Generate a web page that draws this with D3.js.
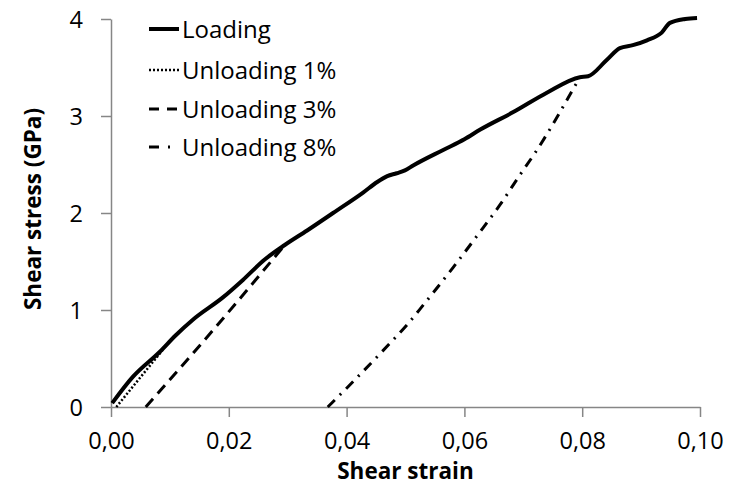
<!DOCTYPE html>
<html>
<head>
<meta charset="utf-8">
<style>
  body { margin: 0; background: #fff; }
  svg text { font-family: "Open Sans", sans-serif; fill: #000; }
  svg .domain { stroke: #868686; stroke-width: 1.5px; }
  svg .tick line { stroke: #868686; stroke-width: 1.5px; }
  svg .tick text { font-size: 23.5px; }
  svg .curve { fill: none; stroke: #000; stroke-linejoin: round; }
</style>
</head>
<body>
<div id="chart"></div>
<script src="https://cdn.jsdelivr.net/npm/d3@7"></script>
<script>
// loading curve [strain, stress GPa]
var loading = [
  [0.0002, 0.04], [0.0037, 0.31], [0.0083, 0.57], [0.0110, 0.74], [0.0139, 0.90],
  [0.0190, 1.13], [0.0224, 1.31], [0.0261, 1.52], [0.0295, 1.67], [0.0333, 1.82],
  [0.0377, 2.00], [0.0428, 2.21], [0.0452, 2.32], [0.0469, 2.38], [0.0485, 2.41],
  [0.0499, 2.44], [0.0513, 2.49], [0.0564, 2.65], [0.0600, 2.76], [0.0627, 2.86],
  [0.0683, 3.04], [0.0740, 3.24], [0.0796, 3.40], [0.0810, 3.41], [0.0842, 3.58],
  [0.0864, 3.70], [0.0886, 3.73], [0.0910, 3.78], [0.0935, 3.86], [0.0949, 3.96],
  [0.0975, 4.00], [0.0995, 4.01]
];
var unload1 = [[0.0009, 0.0], [0.0088, 0.59]];
var unload3 = [[0.0059, 0.0], [0.0180, 0.84], [0.0295, 1.67]];
var unload8 = [
  [0.0368, 0.0], [0.0414, 0.28], [0.0474, 0.66], [0.0503, 0.85], [0.0530, 1.05],
  [0.0581, 1.44], [0.0632, 1.85], [0.0660, 2.08], [0.0694, 2.39], [0.0720, 2.62],
  [0.0796, 3.40]
];

var seriesNames = ["Loading", "Unloading 1%", "Unloading 3%", "Unloading 8%"];
var xTicks = [0, 0.02, 0.04, 0.06, 0.08, 0.10];
var yTicks = [0, 1, 2, 3, 4];

var W = 741, H = 486;
var margin = { top: 19, right: 41, bottom: 79, left: 111 };
var width = W - margin.left - margin.right,
    height = H - margin.top - margin.bottom;

var svg = d3.select("#chart").append("svg")
    .attr("width", W)
    .attr("height", H);

var g = svg.append("g")
    .attr("transform", "translate(" + margin.left + "," + margin.top + ")");

var x = d3.scaleLinear().domain([0, 0.10]).range([0, width]);
var y = d3.scaleLinear().domain([0, 4]).range([height, 0]);

// x axis
var xAxis = d3.axisBottom(x)
    .tickValues(xTicks)
    .tickSize(10)
    .tickSizeOuter(0)
    .tickFormat(function (d) { return d3.format(".2f")(d).replace(".", ","); });

var xa = g.append("g")
    .attr("transform", "translate(0," + height + ")")
    .call(xAxis);
xa.selectAll(".tick text")
    .attr("y", 42)
    .attr("dy", 0);

// y axis
var yAxis = d3.axisLeft(y)
    .tickValues(yTicks)
    .tickSize(10)
    .tickSizeOuter(0)
    .tickFormat(d3.format("d"));

var ya = g.append("g").call(yAxis);
ya.selectAll(".tick text")
    .attr("x", -28)
    .attr("dy", "0.36em");

// axis titles
svg.append("text")
    .attr("x", margin.left + width / 2)
    .attr("y", 479)
    .attr("text-anchor", "middle")
    .style("font-size", "22.5px")
    .style("font-weight", "bold")
    .text("Shear strain");

svg.append("text")
    .attr("transform", "translate(41,209) rotate(-90)")
    .attr("text-anchor", "middle")
    .style("font-size", "22.5px")
    .style("font-weight", "bold")
    .text("Shear stress (GPa)");

// lines
var line = d3.line()
    .x(function (d) { return x(d[0]); })
    .y(function (d) { return y(d[1]); })
    .curve(d3.curveMonotoneX);

var styles = [
  { data: loading, w: 4, dash: null, key: null },
  { data: unload1, w: 2.5, dash: "2,2", key: "2,2" },
  { data: unload3, w: 3, dash: "11,7", key: "10,8" },
  { data: unload8, w: 3, dash: "10,7,2,7", key: "10,9,2,20" }
];

styles.forEach(function (s) {
  g.append("path")
    .attr("class", "curve")
    .attr("d", line(s.data))
    .style("stroke-width", s.w + "px")
    .style("stroke-dasharray", s.dash);
});

// legend
var legendY = [29, 70, 109, 147];
var lg = svg.append("g");
seriesNames.forEach(function (name, i) {
  lg.append("line")
    .attr("x1", 149).attr("x2", 179)
    .attr("y1", legendY[i]).attr("y2", legendY[i])
    .style("stroke", "#000")
    .style("stroke-width", styles[i].w + "px")
    .style("stroke-dasharray", styles[i].key);
  lg.append("text")
    .attr("x", 182)
    .attr("y", legendY[i])
    .attr("dy", "0.36em")
    .style("font-size", "24px")
    .text(name);
});
</script>
</body>
</html>
